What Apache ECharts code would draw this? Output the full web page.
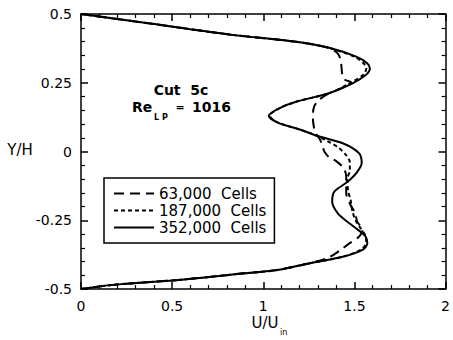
<!DOCTYPE html>
<html>
<head>
<meta charset="utf-8">
<script src="https://cdn.jsdelivr.net/npm/echarts@6/dist/echarts.min.js"></script>
<style>
  html, body { margin: 0; padding: 0; background: #fff; }
  #main { width: 453px; height: 340px; }
</style>
</head>
<body>
<div id="main"></div>
<script>
// velocity profiles, Y/H and U/Uin
const y63 = [0.5, 0.466, 0.425, 0.399, 0.377, 0.355, 0.33, 0.30, 0.275, 0.26, 0.252, 0.24, 0.225, 0.21, 0.19, 0.165, 0.13, 0.10, 0.07, 0.045, 0.02, 0.0, -0.02, -0.035, -0.06, -0.09, -0.12, -0.15, -0.19, -0.225, -0.255, -0.285, -0.31, -0.335, -0.36, -0.385, -0.406, -0.431, -0.443, -0.467, -0.485, -0.5];
const u63 = [0, 0.37, 0.82, 1.18, 1.36, 1.41, 1.425, 1.43, 1.435, 1.45, 1.48, 1.46, 1.41, 1.355, 1.31, 1.28, 1.272, 1.275, 1.285, 1.31, 1.325, 1.335, 1.36, 1.40, 1.44, 1.455, 1.455, 1.455, 1.475, 1.505, 1.515, 1.545, 1.525, 1.47, 1.42, 1.36, 1.256, 1.076, 0.896, 0.535, 0.175, 0];

const y187 = [0.5, 0.466, 0.425, 0.399, 0.377, 0.345, 0.321, 0.302, 0.28, 0.25, 0.212, 0.181, 0.158, 0.13, 0.105, 0.08, 0.058, 0.035, 0.015, -0.01, -0.04, -0.07, -0.1, -0.14, -0.18, -0.22, -0.255, -0.28, -0.305, -0.33, -0.355, -0.383, -0.406, -0.431, -0.443, -0.467, -0.485, -0.5];
const u187 = [0, 0.37, 0.82, 1.18, 1.36, 1.50, 1.55, 1.565, 1.55, 1.48, 1.36, 1.18, 1.09, 1.035, 1.08, 1.20, 1.29, 1.36, 1.41, 1.45, 1.475, 1.475, 1.46, 1.465, 1.48, 1.49, 1.51, 1.535, 1.56, 1.565, 1.54, 1.436, 1.256, 1.076, 0.896, 0.535, 0.175, 0];

const y352 = [0.5, 0.466, 0.425, 0.399, 0.377, 0.345, 0.321, 0.302, 0.278, 0.248, 0.212, 0.181, 0.158, 0.13, 0.105, 0.08, 0.058, 0.03, -0.006, -0.042, -0.079, -0.11, -0.146, -0.182, -0.225, -0.261, -0.285, -0.31, -0.334, -0.358, -0.383, -0.406, -0.431, -0.443, -0.467, -0.485, -0.5];
const u352 = [0, 0.37, 0.82, 1.18, 1.36, 1.51, 1.57, 1.585, 1.562, 1.49, 1.36, 1.18, 1.09, 1.03, 1.08, 1.20, 1.29, 1.436, 1.525, 1.54, 1.51, 1.463, 1.39, 1.378, 1.409, 1.472, 1.52, 1.562, 1.571, 1.544, 1.436, 1.256, 1.076, 0.896, 0.535, 0.175, 0];

const seriesNames = ['63,000  Cells', '187,000  Cells', '352,000  Cells'];
const xTicks = [0, 2, 0.5];      // min, max, interval
const yTicks = [-0.5, 0.5, 0.25];

const font = 'DejaVu Sans';

function zip(us, ys) {
  return us.map(function (u, i) { return [u, ys[i]]; });
}

// canvas 下刻度没画出来，改用 svg
let myChart = echarts.init(document.getElementById('main'), null, { renderer: 'svg' });

// 坐标轴公共样式 (每个轴一份新的)
function makeAxis(dim, position, ticks, withLabel) {
  return {
    type: 'value',
    position: position,
    min: ticks[0], max: ticks[1], interval: ticks[2],
    axisLine: { show: true, onZero: false, lineStyle: { color: '#000', width: 1.5 } },
    axisTick: { show: true, inside: true, length: 7, lineStyle: { color: '#000', width: 1.5 } },
    minorTick: { show: true, splitNumber: 5, length: 4, lineStyle: { color: '#000', width: 1.2 } },
    splitLine: { show: false },
    minorSplitLine: { show: false },
    axisLabel: withLabel
      ? { show: true, color: '#000', fontFamily: font, fontSize: 14, lineHeight: 14, margin: dim === 'x' ? 10 : 9 }
      : { show: false }
  };
}

function lineSeries(name, data, type) {
  return {
    name: name,
    type: 'line',
    data: data,
    symbol: 'circle',
    showSymbol: false,
    smooth: 0.3,
    color: '#000',
    lineStyle: { color: '#000', width: 2, type: type },
    z: type === 'solid' ? 3 : 2
  };
}

let option = {
  backgroundColor: '#fff',
  animation: false,
  grid: { left: 81, right: 2, top: 14, bottom: 51 },
  xAxis: [
    makeAxis('x', 'bottom', xTicks, true),
    makeAxis('x', 'top', xTicks, false)
  ],
  yAxis: [
    makeAxis('y', 'left', yTicks, true),
    makeAxis('y', 'right', yTicks, false)
  ],
  legend: {
    left: 104, top: 178,
    orient: 'vertical',
    backgroundColor: '#fff',
    borderColor: '#000', borderWidth: 1.5, borderRadius: 0,
    padding: [8, 8, 8, 9],
    itemWidth: 40, itemHeight: 14, itemGap: 2,
    itemStyle: { opacity: 0 },
    textStyle: { color: '#000', fontFamily: font, fontSize: 15 },
    data: seriesNames
  },
  graphic: [
    { type: 'text', style: { text: 'Y/H', x: 20, y: 150, align: 'center', verticalAlign: 'middle', font: '15px "DejaVu Sans"', fill: '#000' } },
    { type: 'text', style: { text: 'U/U', x: 265, y: 323, align: 'center', verticalAlign: 'middle', font: '15px "DejaVu Sans"', fill: '#000' } },
    { type: 'text', style: { text: 'in', x: 280, y: 332, align: 'left', verticalAlign: 'middle', font: '8px "DejaVu Sans"', fill: '#000' } },
    { type: 'text', style: { text: 'Cut  5c', x: 181, y: 90, align: 'center', verticalAlign: 'middle', font: 'bold 14px "DejaVu Sans"', fill: '#000' } },
    { type: 'text', style: { text: 'Re', x: 132, y: 107, align: 'left', verticalAlign: 'middle', font: 'bold 14px "DejaVu Sans"', fill: '#000' } },
    { type: 'text', style: { text: 'L P', x: 154, y: 117, align: 'left', verticalAlign: 'middle', font: 'bold 8px "DejaVu Sans"', fill: '#000' } },
    { type: 'text', style: { text: '=', x: 180, y: 107, align: 'center', verticalAlign: 'middle', font: 'bold 11px "DejaVu Sans"', fill: '#000' } },
    { type: 'text', style: { text: '1016', x: 192, y: 107, align: 'left', verticalAlign: 'middle', font: 'bold 14px "DejaVu Sans"', fill: '#000' } }
  ],
  series: [
    lineSeries(seriesNames[0], zip(u63, y63), [10, 6]),
    lineSeries(seriesNames[1], zip(u187, y187), [4, 3]),
    lineSeries(seriesNames[2], zip(u352, y352), 'solid')
  ]
};
myChart.setOption(option);
</script>
</body>
</html>
